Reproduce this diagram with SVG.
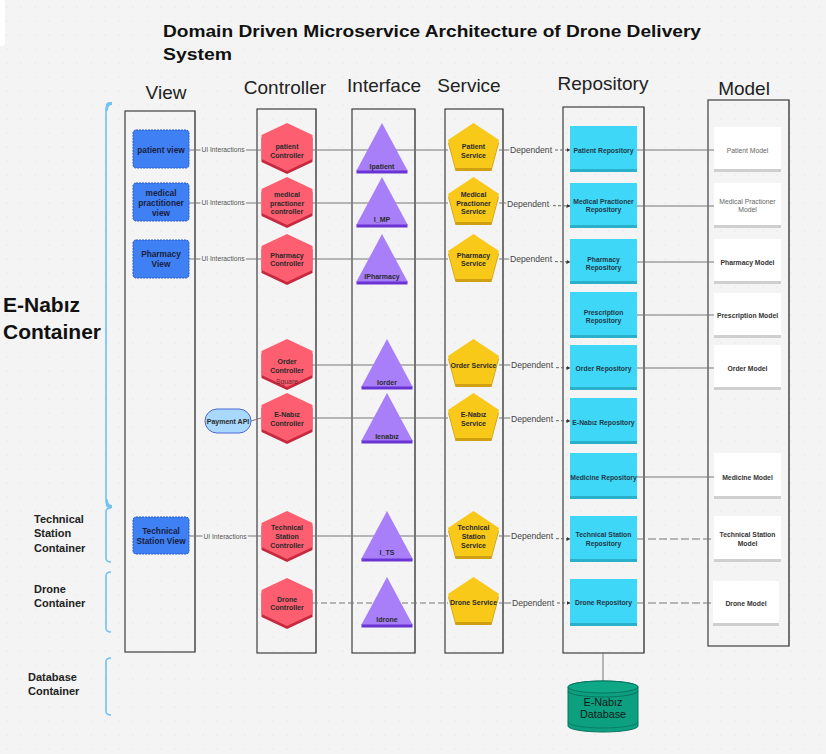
<svg xmlns="http://www.w3.org/2000/svg" xmlns:xlink="http://www.w3.org/1999/xlink" width="826" height="754" viewBox="0 0 826 754">
<defs>
<pattern id="dots" width="14" height="14" patternUnits="userSpaceOnUse"><circle cx="7" cy="7" r="0.6" fill="#dcdcdc"/></pattern>
<g id="hex"><polygon points="0,3 25.5,15 25.5,39 0,51 -25.5,39 -25.5,15" fill="#c6283f"/><polygon points="0,0 25.5,12 25.5,36 0,48 -25.5,36 -25.5,12" fill="#fd5e70"/></g>
<g id="tri"><rect x="-25.5" y="47" width="51" height="3.5" fill="#6a33d4"/><polygon points="0,0 25.5,47.5 -25.5,47.5" fill="#a87ff9"/></g>
<g id="pent"><polygon points="0,3 25.5,20 18,48 -18,48 -25.5,20" fill="#cfa112"/><polygon points="0,0 25.5,17 18,45 -18,45 -25.5,17" fill="#f9c919"/></g>
<marker id="arr" markerWidth="4" markerHeight="4" refX="3.5" refY="2" orient="auto"><path d="M0,0 L4,2 L0,4 z" fill="#333"/></marker>
</defs>
<style>
.t{font-family:"Liberation Sans",Arial,sans-serif;}
.hdr{font-family:"Liberation Sans",Arial,sans-serif;font-size:19px;fill:#222;text-anchor:middle;}
.lbl{font-family:"Liberation Sans",Arial,sans-serif;font-weight:bold;font-size:7px;fill:#2a2a2a;text-anchor:middle;}
.vl{font-family:"Liberation Sans",Arial,sans-serif;font-weight:bold;font-size:8.3px;fill:#1a2140;text-anchor:middle;}
.rl{font-family:"Liberation Sans",Arial,sans-serif;font-weight:bold;font-size:6.8px;fill:#1f3a48;text-anchor:middle;}
.ml{font-family:"Liberation Sans",Arial,sans-serif;font-weight:bold;font-size:6.8px;fill:#333;text-anchor:middle;}
.mlr{font-family:"Liberation Sans",Arial,sans-serif;font-size:6.8px;fill:#666;text-anchor:middle;}
.lane{fill:none;stroke:#3e3e3e;stroke-width:1.2;}
.lsh{stroke:#b5b5b5;stroke-width:1.6;}
.view{fill:#3f80f4;stroke:#2757c9;stroke-width:1;stroke-dasharray:2,1;}
.repo{fill:#3fd7f8;}
.repob{fill:#2bb0ca;}
.model{fill:#ffffff;}
.modelb{fill:#cfcfcf;}
.ln{stroke:#777;stroke-width:1;fill:none;}
.dep{stroke:#666;stroke-width:1;fill:none;stroke-dasharray:3,2;}
.ui{font-family:"Liberation Sans",Arial,sans-serif;font-size:6.7px;fill:#555;text-anchor:middle;stroke:#f4f4f4;stroke-width:3;paint-order:stroke;}
.dt{font-family:"Liberation Sans",Arial,sans-serif;font-size:8.6px;fill:#444;text-anchor:middle;stroke:#f4f4f4;stroke-width:3;paint-order:stroke;}
.brace{fill:none;stroke:#72c2f4;stroke-width:1.6;}
.ct{font-family:"Liberation Sans",Arial,sans-serif;font-weight:bold;font-size:11px;fill:#222;}
</style>
<rect width="826" height="754" fill="#f4f4f4"/>
<rect width="826" height="754" fill="url(#dots)"/>
<rect x="-6" y="-4" width="11" height="50" rx="4" fill="#ffffff"/>

<g id="title">
<text class="t" x="163" y="37" font-size="17" font-weight="bold" fill="#111" textLength="538" lengthAdjust="spacingAndGlyphs">Domain Driven Microservice Architecture of Drone Delivery</text>
<text class="t" x="163" y="60" font-size="17" font-weight="bold" fill="#111" textLength="69" lengthAdjust="spacingAndGlyphs">System</text>
</g>

<g id="headers">
<text class="hdr" x="166" y="99">View</text>
<text class="hdr" x="285" y="94">Controller</text>
<text class="hdr" x="384" y="92">Interface</text>
<text class="hdr" x="469" y="92">Service</text>
<text class="hdr" x="603" y="90">Repository</text>
<text class="hdr" x="744" y="95">Model</text>
</g>

<g id="containers">
<path class="brace" d="M112,103 Q106,103 106,109 L106,501 Q106,507 112,507"/>
<path d="M106,112 L106,105 Q106,102 110,102 L112,102 L112,105 Q108,105 108,110 Z" fill="#72c2f4"/>
<path d="M106,498 L106,505 Q106,508 110,508 L112,508 L112,505 Q108,505 108,500 Z" fill="#72c2f4"/>
<text class="t" x="3" y="312" font-size="21" font-weight="bold" fill="#111">E-Nabız</text>
<text class="t" x="3" y="339" font-size="21" font-weight="bold" fill="#111">Container</text>
<path class="brace" d="M111,508 Q106,508 106,512 L106,558 Q106,562 111,562"/>
<text class="ct" x="34" y="523">Technical</text>
<text class="ct" x="34" y="537">Station</text>
<text class="ct" x="34" y="552">Container</text>
<path class="brace" d="M111,572 Q106,572 106,576 L106,628 Q106,632 111,632"/>
<text class="ct" x="34" y="593">Drone</text>
<text class="ct" x="34" y="607">Container</text>
<path class="brace" d="M111,658 Q106,658 106,662 L106,711 Q106,715 111,715"/>
<text class="ct" x="28" y="681">Database</text>
<text class="ct" x="28" y="695">Container</text>
</g>

<g id="lanes">
<line class="lsh" x1="195" y1="111" x2="195" y2="652"/><rect class="lane" x="125" y="111" width="70" height="541"/>
<line class="lsh" x1="316" y1="109" x2="316" y2="653"/><rect class="lane" x="257" y="109" width="59" height="544"/>
<line class="lsh" x1="415" y1="109" x2="415" y2="653"/><rect class="lane" x="352" y="109" width="63" height="544"/>
<line class="lsh" x1="503" y1="109" x2="503" y2="653"/><rect class="lane" x="445" y="109" width="58" height="544"/>
<line class="lsh" x1="644" y1="107" x2="644" y2="653"/><rect class="lane" x="563" y="107" width="81" height="546"/>
<line class="lsh" x1="789" y1="100" x2="789" y2="646"/><rect class="lane" x="708" y="100" width="81" height="546"/>
</g>

<g id="connectors">
<line class="ln" x1="189" y1="150" x2="261" y2="150"/>
<line class="ln" x1="189" y1="203" x2="261" y2="203"/>
<line class="ln" x1="189" y1="259" x2="261" y2="259"/>
<line class="ln" x1="189" y1="536" x2="261" y2="536"/>
<line class="ln" x1="251" y1="421" x2="261" y2="418"/>
<line class="ln" x1="312" y1="150" x2="448" y2="150"/>
<line class="ln" x1="312" y1="203" x2="448" y2="203"/>
<line class="ln" x1="312" y1="259" x2="448" y2="259"/>
<line class="ln" x1="312" y1="365" x2="448" y2="365"/>
<line class="ln" x1="312" y1="418" x2="448" y2="418"/>
<line class="ln" x1="312" y1="536" x2="448" y2="536"/>
<line class="ln" x1="312" y1="603" x2="448" y2="603" stroke-dasharray="6,3"/>
<line class="ln" x1="499" y1="150" x2="512" y2="150"/><line class="dep" x1="550" y1="150" x2="570" y2="150" marker-end="url(#arr)"/>
<line class="ln" x1="499" y1="203" x2="508" y2="203"/><line class="dep" x1="548" y1="205.5" x2="570" y2="206" marker-end="url(#arr)"/>
<line class="ln" x1="499" y1="259" x2="512" y2="259"/><line class="dep" x1="550" y1="261.5" x2="570" y2="262" marker-end="url(#arr)"/>
<line class="ln" x1="499" y1="365" x2="512" y2="365"/><line class="dep" x1="551" y1="367.5" x2="570" y2="368" marker-end="url(#arr)"/>
<line class="ln" x1="499" y1="418" x2="512" y2="418"/><line class="dep" x1="551" y1="420.5" x2="570" y2="421" marker-end="url(#arr)"/>
<line class="ln" x1="499" y1="536" x2="512" y2="536"/><line class="dep" x1="551" y1="538.5" x2="570" y2="539" marker-end="url(#arr)"/>
<line class="ln" x1="499" y1="603" x2="512" y2="603"/><line class="dep" x1="552" y1="603" x2="570" y2="603" marker-end="url(#arr)"/>
<line class="ln" x1="637" y1="150" x2="714" y2="150"/>
<line class="ln" x1="637" y1="206" x2="714" y2="206"/>
<line class="ln" x1="637" y1="262" x2="714" y2="262"/>
<line class="ln" x1="637" y1="315" x2="714" y2="315"/>
<line class="ln" x1="637" y1="368" x2="714" y2="368"/>
<line class="ln" x1="637" y1="477" x2="714" y2="477"/>
<line class="ln" x1="637" y1="539" x2="714" y2="539" stroke-dasharray="8,3"/>
<line class="ln" x1="637" y1="603" x2="713" y2="603" stroke-dasharray="8,3"/>
<line class="ln" x1="603" y1="653" x2="603" y2="683"/>
<text class="ui" x="223" y="152.3">UI Interactions</text>
<text class="ui" x="223" y="205.3">UI Interactions</text>
<text class="ui" x="223" y="261.3">UI Interactions</text>
<text class="ui" x="225" y="538.8" font-size="7.8">UI Interactions</text>
<text class="dt" x="531" y="153">Dependent</text>
<text class="dt" x="528" y="206.5">Dependent</text>
<text class="dt" x="531" y="262">Dependent</text>
<text class="dt" x="532" y="368">Dependent</text>
<text class="dt" x="532" y="421.5">Dependent</text>
<text class="dt" x="532" y="539">Dependent</text>
<text class="dt" x="533" y="606">Dependent</text>
</g>

<g id="view-patient"><rect class="view" x="133" y="130" width="56" height="38" rx="3"/><text class="vl" x="161" y="153">patient view</text></g>
<g id="view-medical"><rect class="view" x="133" y="183" width="56" height="38" rx="3"/><text class="vl" x="161" y="196">medical</text><text class="vl" x="161" y="206">practitioner</text><text class="vl" x="161" y="216">view</text></g>
<g id="view-pharmacy"><rect class="view" x="133" y="240" width="56" height="38" rx="3"/><text class="vl" x="161" y="257">Pharmacy</text><text class="vl" x="161" y="267">View</text></g>
<g id="view-technical"><rect class="view" x="133" y="517" width="56" height="37" rx="3"/><text class="vl" x="161" y="534">Technical</text><text class="vl" x="161" y="544">Station View</text></g>
<g id="payment-api"><rect x="205" y="409" width="46" height="24" rx="12" fill="#a9d8fd" stroke="#4a6bd6" stroke-width="1"/><text class="lbl" x="228" y="423.5" font-size="7.2">Payment API</text></g>

<g id="ctrl-patient"><use xlink:href="#hex" href="#hex" transform="translate(287,123)"/><text class="lbl" x="287" y="148.5">patient</text><text class="lbl" x="287" y="157.5">Controller</text></g>
<g id="ctrl-medical"><use xlink:href="#hex" href="#hex" transform="translate(287,177)"/><text class="lbl" x="287" y="197">medical</text><text class="lbl" x="287" y="205.5">practioner</text><text class="lbl" x="287" y="214">controller</text></g>
<g id="ctrl-pharmacy"><use xlink:href="#hex" href="#hex" transform="translate(287,234)"/><text class="lbl" x="287" y="258">Pharmacy</text><text class="lbl" x="287" y="266">Controller</text></g>
<g id="ctrl-order"><use xlink:href="#hex" href="#hex" transform="translate(287,339)"/><text class="lbl" x="287" y="364">Order</text><text class="lbl" x="287" y="372.5">Controller</text><text class="t" x="287" y="384" font-size="6.8" fill="#6a2530" text-anchor="middle">Square</text></g>
<g id="ctrl-enabiz"><use xlink:href="#hex" href="#hex" transform="translate(287,393)"/><text class="lbl" x="287" y="417">E-Nabız</text><text class="lbl" x="287" y="426">Controller</text></g>
<g id="ctrl-technical"><use xlink:href="#hex" href="#hex" transform="translate(287,511)"/><text class="lbl" x="287" y="530">Technical</text><text class="lbl" x="287" y="539">Station</text><text class="lbl" x="287" y="547.5">Controller</text></g>
<g id="ctrl-drone"><use xlink:href="#hex" href="#hex" transform="translate(287,578)"/><text class="lbl" x="287" y="602">Drone</text><text class="lbl" x="287" y="610">Controller</text></g>

<g id="if-patient"><use xlink:href="#tri" href="#tri" transform="translate(382,123)"/><text class="lbl" x="382" y="169" font-size="7.3">Ipatient</text></g>
<g id="if-mp"><use xlink:href="#tri" href="#tri" transform="translate(382,177)"/><text class="lbl" x="382" y="222" font-size="7.3">I_MP</text></g>
<g id="if-pharmacy"><use xlink:href="#tri" href="#tri" transform="translate(382,234)"/><text class="lbl" x="382" y="279" font-size="7">IPharmacy</text></g>
<g id="if-order"><use xlink:href="#tri" href="#tri" transform="translate(387,339)"/><text class="lbl" x="387" y="385" font-size="7.3">Iorder</text></g>
<g id="if-enabiz"><use xlink:href="#tri" href="#tri" transform="translate(387,393)"/><text class="lbl" x="387" y="439" font-size="7.3">Ienabız</text></g>
<g id="if-ts"><use xlink:href="#tri" href="#tri" transform="translate(387,511)"/><text class="lbl" x="387" y="555" font-size="7.3">I_TS</text></g>
<g id="if-drone"><use xlink:href="#tri" href="#tri" transform="translate(387,577)"/><text class="lbl" x="387" y="622" font-size="7.3">Idrone</text></g>

<g id="svc-patient"><use xlink:href="#pent" href="#pent" transform="translate(473.5,123)"/><text class="lbl" x="473.5" y="149">Patient</text><text class="lbl" x="473.5" y="157.5">Service</text></g>
<g id="svc-medical"><use xlink:href="#pent" href="#pent" transform="translate(473.5,177)"/><text class="lbl" x="473.5" y="197">Medical</text><text class="lbl" x="473.5" y="205.5">Practioner</text><text class="lbl" x="473.5" y="214">Service</text></g>
<g id="svc-pharmacy"><use xlink:href="#pent" href="#pent" transform="translate(473.5,234)"/><text class="lbl" x="473.5" y="258">Pharmacy</text><text class="lbl" x="473.5" y="266">Service</text></g>
<g id="svc-order"><use xlink:href="#pent" href="#pent" transform="translate(473.5,339)"/><text class="lbl" x="473.5" y="368">Order Service</text></g>
<g id="svc-enabiz"><use xlink:href="#pent" href="#pent" transform="translate(473.5,393)"/><text class="lbl" x="473.5" y="417">E-Nabız</text><text class="lbl" x="473.5" y="426">Service</text></g>
<g id="svc-technical"><use xlink:href="#pent" href="#pent" transform="translate(473.5,511)"/><text class="lbl" x="473.5" y="530">Technical</text><text class="lbl" x="473.5" y="539">Station</text><text class="lbl" x="473.5" y="547.5">Service</text></g>
<g id="svc-drone"><use xlink:href="#pent" href="#pent" transform="translate(473.5,577)"/><text class="lbl" x="473.5" y="605">Drone Service</text></g>

<g id="repo-patient"><rect class="repo" x="570" y="126" width="67" height="46"/><rect class="repob" x="570" y="169" width="67" height="3"/><text class="rl" x="603.5" y="152.5">Patient Repository</text></g>
<g id="repo-medical"><rect class="repo" x="570" y="183" width="67" height="45"/><rect class="repob" x="570" y="225" width="67" height="3"/><text class="rl" x="603.5" y="204">Medical Practioner</text><text class="rl" x="603.5" y="212">Repository</text></g>
<g id="repo-pharmacy"><rect class="repo" x="570" y="239" width="67" height="45"/><rect class="repob" x="570" y="281" width="67" height="3"/><text class="rl" x="603.5" y="261.5">Pharmacy</text><text class="rl" x="603.5" y="269.5">Repository</text></g>
<g id="repo-prescription"><rect class="repo" x="570" y="292" width="67" height="46"/><rect class="repob" x="570" y="335" width="67" height="3"/><text class="rl" x="603.5" y="314.5">Prescription</text><text class="rl" x="603.5" y="322.5">Repository</text></g>
<g id="repo-order"><rect class="repo" x="570" y="345" width="67" height="45"/><rect class="repob" x="570" y="387" width="67" height="3"/><text class="rl" x="603.5" y="370.5">Order Repository</text></g>
<g id="repo-enabiz"><rect class="repo" x="570" y="398" width="67" height="46"/><rect class="repob" x="570" y="441" width="67" height="3"/><text class="rl" x="603.5" y="424.5">E-Nabız Repository</text></g>
<g id="repo-medicine"><rect class="repo" x="570" y="453" width="67" height="46"/><rect class="repob" x="570" y="496" width="67" height="3"/><text class="rl" x="603.5" y="479.5">Medicine Repository</text></g>
<g id="repo-technical"><rect class="repo" x="570" y="516" width="67" height="46"/><rect class="repob" x="570" y="559" width="67" height="3"/><text class="rl" x="603.5" y="536.5">Technical Station</text><text class="rl" x="603.5" y="545.5">Repository</text></g>
<g id="repo-drone"><rect class="repo" x="570" y="579" width="67" height="47"/><rect class="repob" x="570" y="623" width="67" height="3"/><text class="rl" x="603.5" y="604.5">Drone Repository</text></g>

<g id="model-patient"><rect class="model" x="714" y="127" width="67" height="45"/><rect class="modelb" x="714" y="169" width="67" height="3"/><text class="mlr" x="747.5" y="152.5">Patient Model</text></g>
<g id="model-medical"><rect class="model" x="714" y="183" width="67" height="45"/><rect class="modelb" x="714" y="225" width="67" height="3"/><text class="mlr" x="747.5" y="204">Medical Practioner</text><text class="mlr" x="747.5" y="212">Model</text></g>
<g id="model-pharmacy"><rect class="model" x="714" y="239" width="67" height="45"/><rect class="modelb" x="714" y="281" width="67" height="3"/><text class="ml" x="747.5" y="264.5">Pharmacy Model</text></g>
<g id="model-prescription"><rect class="model" x="714" y="293" width="67" height="45"/><rect class="modelb" x="714" y="335" width="67" height="3"/><text class="ml" x="747.5" y="317.5">Prescription Model</text></g>
<g id="model-order"><rect class="model" x="714" y="345" width="67" height="45"/><rect class="modelb" x="714" y="387" width="67" height="3"/><text class="ml" x="747.5" y="370.5">Order Model</text></g>
<g id="model-medicine"><rect class="model" x="714" y="453" width="67" height="46"/><rect class="modelb" x="714" y="496" width="67" height="3"/><text class="ml" x="747.5" y="479.5">Medicine Model</text></g>
<g id="model-technical"><rect class="model" x="714" y="516" width="67" height="46"/><rect class="modelb" x="714" y="559" width="67" height="3"/><text class="ml" x="747.5" y="536.5">Technical Station</text><text class="ml" x="747.5" y="545.5">Model</text></g>
<g id="model-drone"><rect class="model" x="713" y="581" width="66" height="45"/><rect class="modelb" x="713" y="623" width="66" height="3"/><text class="ml" x="746" y="605.5">Drone Model</text></g>

<g id="database">
<path d="M568,687 L568,726 A35,6 0 0 0 638,726 L638,687 A35,6 0 0 0 568,687 Z" fill="#0c9f80" stroke="#087560" stroke-width="1"/>
<ellipse cx="603" cy="687" rx="35" ry="6" fill="#0fa886" stroke="#087560" stroke-width="1"/>
<path d="M568,691 A35,6 0 0 0 638,691" fill="none" stroke="#087560" stroke-width="1"/>
<path d="M568,722 A35,6 0 0 0 638,722" fill="none" stroke="#087560" stroke-width="0.8"/>
<text class="t" x="603" y="706" font-size="10.8" fill="#0d1a16" text-anchor="middle">E-Nabız</text>
<text class="t" x="603" y="717.5" font-size="10.8" fill="#0d1a16" text-anchor="middle">Database</text>
</g>
</svg>
